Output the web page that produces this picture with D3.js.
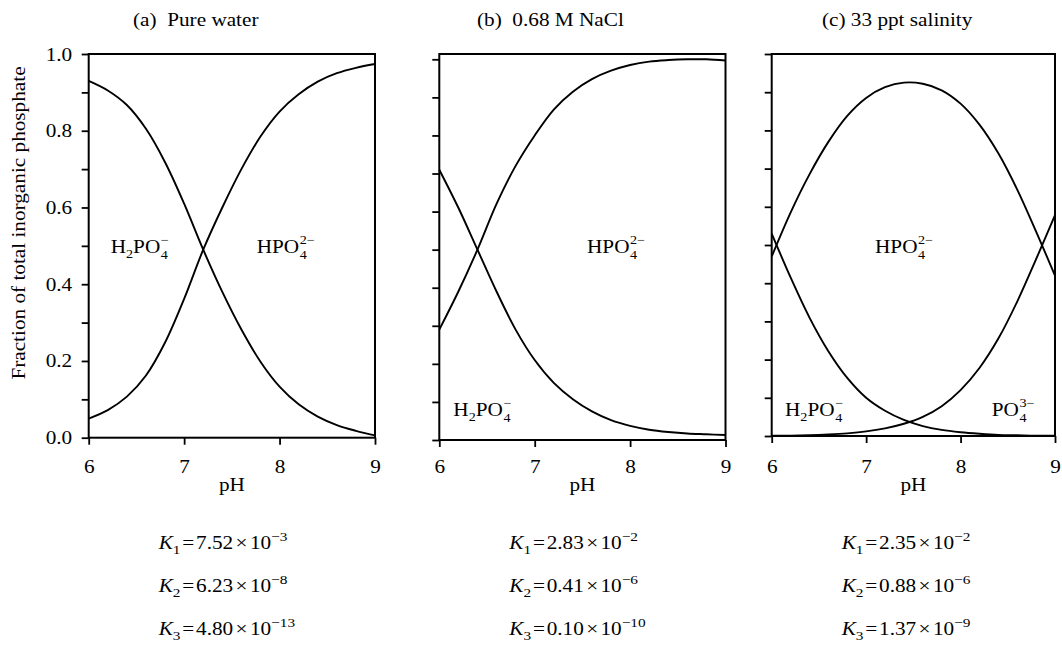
<!DOCTYPE html>
<html>
<head>
<meta charset="utf-8">
<script src="https://cdn.jsdelivr.net/npm/d3@7"></script>
<style>
  body { margin: 0; background: #fff; }
  svg { display: block; }
  text { font-family: "Liberation Serif", "Times New Roman", serif; fill: #000; white-space: pre; }
</style>
</head>
<body>
<svg id="chart" width="1062" height="645"></svg>
<script>
// pH grid shared by every curve
const pH = [6.0, 6.2, 6.4, 6.6, 6.8, 7.0, 7.2, 7.4, 7.6, 7.8, 8.0, 8.2, 8.4, 8.6, 8.8, 9.0];

// (a) pure water
const pureH2PO4 = [0.93, 0.905, 0.867, 0.805, 0.718, 0.61, 0.49, 0.38, 0.282, 0.198, 0.133, 0.087, 0.055, 0.033, 0.018, 0.006];
const pureHPO4  = [0.05, 0.072, 0.107, 0.162, 0.248, 0.362, 0.49, 0.60, 0.70, 0.785, 0.85, 0.895, 0.928, 0.95, 0.964, 0.974];

// (b) 0.68 M NaCl
const naclH2PO4 = [0.71, 0.61, 0.50, 0.39, 0.29, 0.21, 0.15, 0.107, 0.075, 0.052, 0.037, 0.027, 0.021, 0.017, 0.015, 0.013];
const naclHPO4  = [0.29, 0.39, 0.50, 0.62, 0.72, 0.80, 0.868, 0.915, 0.948, 0.97, 0.985, 0.994, 0.998, 1.0, 1.0, 0.997];

// (c) 33 ppt salinity
const seaH2PO4 = [0.53, 0.415, 0.31, 0.222, 0.152, 0.10, 0.066, 0.042, 0.026, 0.016, 0.01, 0.006, 0.003, 0.002, 0.001, 0.001];
const seaHPO4  = [0.47, 0.585, 0.685, 0.77, 0.838, 0.885, 0.913, 0.925, 0.922, 0.905, 0.87, 0.815, 0.74, 0.645, 0.535, 0.42];
const seaPO4   = [0.001, 0.001, 0.002, 0.004, 0.007, 0.012, 0.02, 0.032, 0.05, 0.078, 0.12, 0.178, 0.255, 0.352, 0.463, 0.578];

const panelTitles = ["(a)  Pure water", "(b)  0.68 M NaCl", "(c) 33 ppt salinity"];
const kMantissa = [["7.52", "6.23", "4.80"], ["2.83", "0.41", "0.10"], ["2.35", "0.88", "1.37"]];
const kExponent = [["−3", "−8", "−13"], ["−2", "−6", "−10"], ["−2", "−6", "−9"]];

const xTicks = [6, 7, 8, 9];
const yLabelTicks = [0, 0.2, 0.4, 0.6, 0.8, 1.0];
const yAllTicks = [0, 0.1, 0.2, 0.3, 0.4, 0.5, 0.6, 0.7, 0.8, 0.9, 1.0];
const yTitle = "Fraction of total inorganic phosphate";
const xTitle = "pH";

// ---- layout ----
const SX = 1.18;          // horizontal glyph stretch of the wide serif face
const FS = 18, SUBFS = 12, SUBDY = 6, SUPDY = -9;

const panels = [
  { x0: 88.7,  x1: 375,   y0: 437.7, y1: 54,   top: 54, titleX: 133, labelTicks: true,
    series: [pureH2PO4, pureHPO4],
    labels: [{ x: 110.7, y: 253, kind: "H2PO4" }, { x: 256.7, y: 253, kind: "HPO4" }] },
  { x0: 439.3, x1: 725.5, y0: 440,   y1: 59.3, top: 54, titleX: 477, labelTicks: false,
    series: [naclH2PO4, naclHPO4],
    labels: [{ x: 587, y: 253, kind: "HPO4" }, { x: 453.3, y: 416, kind: "H2PO4" }] },
  { x0: 771.7, x1: 1055,  y0: 436,   y1: 54,   top: 54, titleX: 822, labelTicks: false,
    series: [seaH2PO4, seaHPO4, seaPO4],
    labels: [{ x: 875, y: 252.7, kind: "HPO4" }, { x: 785, y: 416, kind: "H2PO4" }, { x: 991.7, y: 416, kind: "PO4" }] }
];

const svg = d3.select("#chart");

function stretched(parent, x, y, rotate) {
  return parent.append("g")
    .attr("transform", `translate(${x},${y})${rotate ? ` rotate(${rotate})` : ""} scale(${SX},1)`);
}

// ion label with stacked subscript/superscript after the oxygen
const ions = {
  H2PO4: { parts: [{ t: "H" }, { t: "2", sub: true }, { t: "PO" }], sub: "4", sup: "−" },
  HPO4:  { parts: [{ t: "HPO" }], sub: "4", sup: "2−" },
  PO4:   { parts: [{ t: "PO" }], sub: "4", sup: "3−" }
};

function ionLabel(x, y, kind) {
  const ion = ions[kind];
  const g = stretched(svg, x, y);
  const t = g.append("text").attr("font-size", FS);
  let lowered = false;
  ion.parts.forEach(p => {
    const ts = t.append("tspan").text(p.t);
    if (p.sub) { ts.attr("font-size", SUBFS).attr("dy", SUBDY - 1); lowered = true; }
    else if (lowered) { ts.attr("dy", -(SUBDY - 1)); lowered = false; }
  });
  const w = t.node().getComputedTextLength();
  g.append("text").attr("x", w + 0.5).attr("y", SUBDY).attr("font-size", SUBFS).text(ion.sub);
  g.append("text").attr("x", w + 0.5).attr("y", SUPDY).attr("font-size", SUBFS).text(ion.sup);
}

panels.forEach((p, i) => {
  const x = d3.scaleLinear().domain([6, 9]).range([p.x0, p.x1]);
  const y = d3.scaleLinear().domain([0, 1]).range([p.y0, p.y1]);

  // frame
  svg.append("rect")
    .attr("x", p.x0).attr("y", p.top)
    .attr("width", p.x1 - p.x0).attr("height", p.y0 - p.top)
    .attr("fill", "none").attr("stroke", "#000").attr("stroke-width", 2);

  // left axis
  const yAxis = d3.axisLeft(y).tickValues(yAllTicks).tickSize(7).tickSizeOuter(0)
    .tickFormat(d => (p.labelTicks && yLabelTicks.some(v => Math.abs(v - d) < 1e-9)) ? d3.format(".1f")(d) : "");
  const ga = svg.append("g").attr("transform", `translate(${p.x0},0)`).call(yAxis);
  ga.select(".domain").remove();
  ga.selectAll(".tick line").attr("stroke", "#000").attr("stroke-width", 1.8);
  ga.selectAll(".tick text")
    .attr("font-family", null).attr("font-size", FS)
    .attr("x", -16.5 / SX).attr("dy", null).attr("y", 6)
    .attr("transform", `scale(${SX},1)`);

  // bottom axis
  const xAxis = d3.axisBottom(x).tickValues(xTicks).tickSize(7).tickSizeOuter(0).tickFormat(d3.format("d"));
  const gb = svg.append("g").attr("transform", `translate(0,${p.y0})`).call(xAxis);
  gb.select(".domain").remove();
  gb.selectAll(".tick line").attr("stroke", "#000").attr("stroke-width", 1.8);
  gb.selectAll(".tick text")
    .attr("font-family", null).attr("font-size", FS)
    .attr("y", 473.5 - p.y0).attr("dy", null)
    .attr("transform", `scale(${SX},1)`)
    .attr("x", 0);

  // curves
  const line = d3.line().x((d, k) => x(pH[k])).y(d => y(d)).curve(d3.curveCatmullRom.alpha(0.5));
  p.series.forEach(s => {
    svg.append("path").datum(s).attr("d", line)
      .attr("fill", "none").attr("stroke", "#000").attr("stroke-width", 1.9)
      .attr("stroke-linejoin", "round");
  });

  // species labels
  p.labels.forEach(l => ionLabel(l.x, l.y, l.kind));

  // panel title
  stretched(svg, p.titleX, 26).append("text").attr("font-size", FS).text(panelTitles[i]);

  // x title
  stretched(svg, (p.x0 + p.x1) / 2, 491).append("text")
    .attr("font-size", FS).attr("text-anchor", "middle").text(xTitle);

  // equilibrium constants
  [549, 592, 635].forEach((by, k) => {
    const t = stretched(svg, p.x0 + 70, by).append("text").attr("font-size", FS);
    t.append("tspan").attr("font-style", "italic").text("K");
    t.append("tspan").attr("font-size", SUBFS + 1).attr("dy", 5).text(String(k + 1));
    t.append("tspan").attr("dy", -5).attr("dx", 1.5).text("=");
    t.append("tspan").attr("dx", 1.5).text(kMantissa[i][k]);
    t.append("tspan").attr("dx", 2).text("×");
    t.append("tspan").attr("dx", 2).text("10");
    t.append("tspan").attr("font-size", SUBFS + 1).attr("dy", -8).text(kExponent[i][k]);
  });
});

// shared y title
stretched(svg, 25, 223, -90).append("text")
  .attr("font-size", FS).attr("text-anchor", "middle").text(yTitle);
</script>
</body>
</html>
